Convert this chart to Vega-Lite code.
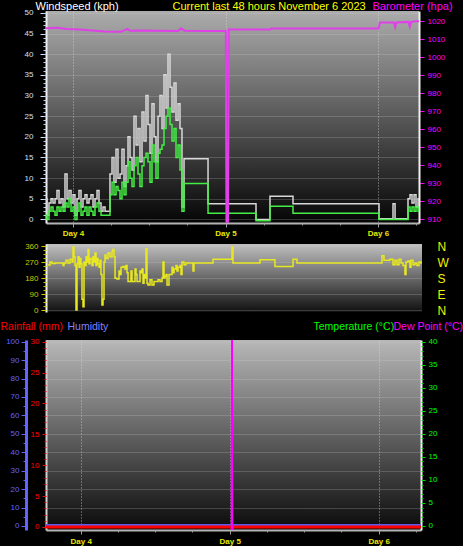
{
 "$schema": "https://vega.github.io/schema/vega-lite/v6.json",
 "background": "#000000",
 "padding": 0,
 "config": {
  "font": "Liberation Sans",
  "view": {"stroke": null},
  "axis": {"labelFont": "Liberation Sans", "titleFont": "Liberation Sans", "titleFontWeight": "normal", "labelFontSize": 8, "tickWidth": 1}
 },
 "datasets": {
  "wind": [
   {"t":-4.72,"g":3,"a":0},{"t":-4.41,"g":5,"a":1},{"t":-4.09,"g":1,"a":0},{"t":-3.78,"g":4,"a":2},{"t":-3.46,"g":5,"a":3},{"t":-3.15,"g":4,"a":2},{"t":-2.83,"g":5,"a":1},{"t":-2.52,"g":7,"a":3},{"t":-2.2,"g":4,"a":2},{"t":-1.89,"g":5,"a":3},{"t":-1.57,"g":3,"a":2},{"t":-1.26,"g":11,"a":4},{"t":-0.94,"g":5,"a":3},{"t":-0.63,"g":7,"a":5},{"t":-0.31,"g":4,"a":2},{"t":0,"g":6,"a":3},{"t":0.31,"g":1,"a":0},{"t":0.63,"g":5,"a":2},{"t":0.94,"g":7,"a":4},{"t":1.26,"g":3,"a":1},{"t":1.57,"g":5,"a":2},{"t":1.89,"g":6,"a":3},{"t":2.2,"g":4,"a":1},{"t":2.52,"g":5,"a":3},{"t":2.83,"g":6,"a":2},{"t":3.15,"g":3,"a":1},{"t":3.46,"g":5,"a":3},{"t":3.78,"g":7,"a":4},{"t":4.09,"g":4,"a":2},{"t":4.41,"g":2,"a":1},{"t":4.72,"g":3,"a":1},{"t":5.04,"g":2,"a":1},{"t":5.35,"g":2,"a":1},{"t":5.67,"g":2,"a":1},{"t":5.82,"g":11,"a":6},{"t":6.14,"g":15,"a":9},{"t":6.45,"g":9,"a":6},{"t":6.77,"g":17,"a":8},{"t":7.08,"g":10,"a":7},{"t":7.4,"g":11,"a":5},{"t":7.71,"g":17,"a":9},{"t":8.03,"g":8,"a":6},{"t":8.34,"g":13,"a":9},{"t":8.66,"g":20,"a":14},{"t":8.97,"g":15,"a":10},{"t":9.29,"g":12,"a":8},{"t":9.6,"g":25,"a":13},{"t":9.92,"g":18,"a":15},{"t":10.23,"g":22,"a":11},{"t":10.54,"g":14,"a":8},{"t":10.86,"g":26,"a":13},{"t":11.17,"g":19,"a":15},{"t":11.49,"g":30,"a":16},{"t":11.8,"g":23,"a":14},{"t":12.12,"g":16,"a":9},{"t":12.43,"g":28,"a":18},{"t":12.75,"g":20,"a":14},{"t":13.06,"g":14,"a":10},{"t":13.38,"g":25,"a":16},{"t":13.69,"g":30,"a":17},{"t":14.01,"g":22,"a":18},{"t":14.32,"g":35,"a":22},{"t":14.64,"g":27,"a":25},{"t":14.95,"g":40,"a":27},{"t":15.27,"g":32,"a":23},{"t":15.58,"g":26,"a":19},{"t":15.9,"g":33,"a":22},{"t":16.21,"g":24,"a":15},{"t":16.53,"g":28,"a":18},{"t":16.84,"g":22,"a":12},{"t":17.15,"g":3,"a":2},{"t":17.47,"g":14.7,"a":8.7},{"t":21.25,"g":3.8,"a":1.5},{"t":28.8,"g":0,"a":-0.3},{"t":31.0,"g":5.6,"a":3.2},{"t":34.62,"g":3.8,"a":1.5},{"t":48.16,"g":0.2,"a":0},{"t":50.36,"g":3.8,"a":0},{"t":50.68,"g":0.2,"a":0},{"t":52.72,"g":5,"a":3},{"t":53.04,"g":6,"a":2},{"t":53.35,"g":4,"a":3},{"t":53.67,"g":6,"a":2},{"t":53.98,"g":3,"a":3},{"t":54.3,"g":5,"a":2},{"t":54.6,"g":5,"a":2}
  ],
  "baro": [
   {"t":-4.72,"p":1016},{"t":-2.5,"p":1016.2},{"t":-1,"p":1015.6},{"t":1,"p":1015.3},{"t":3,"p":1014.8},{"t":5,"p":1014.2},{"t":7.5,"p":1014.0},{"t":8.6,"p":1015.6},{"t":9.0,"p":1014.6},{"t":11,"p":1014.8},{"t":13,"p":1014.6},{"t":16.5,"p":1014.4},{"t":17.0,"p":1015.8},{"t":17.6,"p":1014.6},{"t":21,"p":1014.4},{"t":24.05,"p":1014.4},{"t":24.15,"p":908},{"t":24.4,"p":908},{"t":24.5,"p":1015.3},{"t":31,"p":1015.3},{"t":31.2,"p":1015.9},{"t":48.1,"p":1015.9},{"t":48.3,"p":1019.2},{"t":50.5,"p":1019.2},{"t":50.7,"p":1016.5},{"t":50.9,"p":1019.2},{"t":52.8,"p":1019.5},{"t":53.0,"p":1016.8},{"t":53.2,"p":1019.5},{"t":54.0,"p":1019.8},{"t":54.6,"p":1019.8}
  ],
  "dir": [
   {"t":-4.72,"d":253},{"t":-4.4,"d":270},{"t":-4.09,"d":262},{"t":-3.61,"d":265},{"t":-2.34,"d":250},{"t":-2.18,"d":265},{"t":-1.87,"d":280},{"t":-1.55,"d":265},{"t":-1.23,"d":285},{"t":-0.91,"d":270},{"t":-0.76,"d":355},{"t":-0.6,"d":300},{"t":-0.44,"d":250},{"t":-0.28,"d":0},{"t":-0.12,"d":260},{"t":0.04,"d":300},{"t":0.2,"d":240},{"t":0.36,"d":290},{"t":0.51,"d":260},{"t":0.67,"d":60},{"t":0.83,"d":18},{"t":0.99,"d":270},{"t":1.15,"d":250},{"t":1.31,"d":300},{"t":1.47,"d":270},{"t":1.62,"d":340},{"t":1.78,"d":260},{"t":1.94,"d":290},{"t":2.26,"d":250},{"t":2.42,"d":300},{"t":2.57,"d":270},{"t":2.73,"d":320},{"t":2.89,"d":250},{"t":3.05,"d":290},{"t":3.21,"d":260},{"t":3.37,"d":240},{"t":3.53,"d":280},{"t":3.68,"d":200},{"t":3.84,"d":28},{"t":4.0,"d":60},{"t":4.16,"d":270},{"t":4.32,"d":310},{"t":4.48,"d":290},{"t":4.79,"d":320},{"t":5.11,"d":300},{"t":5.43,"d":330},{"t":5.59,"d":340},{"t":5.75,"d":300},{"t":5.91,"d":178},{"t":6.22,"d":175},{"t":6.54,"d":220},{"t":6.7,"d":200},{"t":6.86,"d":240},{"t":7.17,"d":245},{"t":7.49,"d":230},{"t":7.65,"d":250},{"t":7.81,"d":210},{"t":7.97,"d":160},{"t":8.29,"d":160},{"t":8.44,"d":220},{"t":8.6,"d":160},{"t":8.92,"d":160},{"t":9.08,"d":230},{"t":9.24,"d":200},{"t":9.4,"d":160},{"t":9.71,"d":160},{"t":9.87,"d":220},{"t":10.03,"d":210},{"t":10.19,"d":230},{"t":10.35,"d":150},{"t":10.51,"d":200},{"t":10.66,"d":180},{"t":10.82,"d":345},{"t":10.98,"d":150},{"t":11.14,"d":140},{"t":11.46,"d":170},{"t":11.77,"d":140},{"t":12.09,"d":160},{"t":12.41,"d":160},{"t":12.73,"d":170},{"t":13.04,"d":160},{"t":13.36,"d":180},{"t":13.52,"d":270},{"t":13.68,"d":180},{"t":13.84,"d":190},{"t":14.0,"d":200},{"t":14.16,"d":140},{"t":14.31,"d":140},{"t":14.47,"d":200},{"t":14.79,"d":200},{"t":14.95,"d":240},{"t":15.11,"d":210},{"t":15.27,"d":230},{"t":15.58,"d":250},{"t":15.74,"d":220},{"t":15.9,"d":240},{"t":16.22,"d":250},{"t":16.37,"d":200},{"t":16.53,"d":270},{"t":16.85,"d":255},{"t":17.17,"d":265},{"t":18.12,"d":265},{"t":18.28,"d":220},{"t":18.43,"d":265},{"t":21.45,"d":285},{"t":24.46,"d":355},{"t":24.62,"d":265},{"t":28.9,"d":283},{"t":31.28,"d":245},{"t":34.14,"d":285},{"t":34.77,"d":265},{"t":48.25,"d":305},{"t":48.57,"d":280},{"t":49.52,"d":285},{"t":50.0,"d":255},{"t":50.31,"d":280},{"t":50.63,"d":255},{"t":50.95,"d":285},{"t":51.27,"d":265},{"t":51.58,"d":250},{"t":51.9,"d":200},{"t":52.06,"d":270},{"t":52.38,"d":275},{"t":52.69,"d":240},{"t":52.85,"d":280},{"t":53.17,"d":255},{"t":53.49,"d":265},{"t":53.8,"d":250},{"t":54.12,"d":270},{"t":54.44,"d":265},{"t":54.6,"d":265}
  ],
  "bottom": [
   {"t":-5.6,"rain":0,"hum":0.5,"temp":0,"dew":-10},
   {"t":24.33,"rain":0,"hum":0.5,"temp":0,"dew":-10},
   {"t":24.37,"rain":0,"hum":0.5,"temp":0,"dew":48},
   {"t":24.41,"rain":0,"hum":0.5,"temp":0,"dew":-10},
   {"t":54.9,"rain":0,"hum":0.5,"temp":0,"dew":-10}
  ]
 },
 "spacing": 3,
 "bounds": "full",
 "vconcat": [
  {
   "width": 373,
   "height": 212,
   "view": {"stroke": null, "fill": {"gradient": "linear", "x1": 0, "y1": 0, "x2": 0, "y2": 1, "stops": [{"offset": 0, "color": "#acacac"}, {"offset": 1, "color": "#050505"}]}},
   "resolve": {"scale": {"y": "independent"}, "axis": {"x": "independent", "y": "independent"}},
   "layer": [
    {
     "data": {"name": "wind"},
     "mark": {"type": "line", "interpolate": "step-after", "color": "#d8d8d8", "strokeWidth": 1.5, "clip": true},
     "encoding": {
      "x": {"field": "t", "type": "quantitative", "scale": {"domain": [-4.25, 54.45], "nice": false, "zero": false},
       "axis": {"orient": "bottom", "values": [0, 24, 48], "labelExpr": "datum.value == 0 ? 'Day 4' : datum.value == 24 ? 'Day 5' : 'Day 6'", "labelColor": "#e8e800", "labelFontWeight": "bold", "labelPadding": 2, "tickColor": "#a0a0a0", "tickSize": 4, "domainColor": "#b4b4b4", "domainWidth": 2, "grid": true, "gridColor": "#dcdcdc", "gridDash": [1, 2], "gridOpacity": 0.7, "title": null}},
      "y": {"field": "g", "type": "quantitative", "scale": {"domain": [-0.85, 50.45], "nice": false, "zero": false},
       "axis": {"orient": "left", "values": [0, 5, 10, 15, 20, 25, 30, 35, 40, 45, 50], "labelColor": "#d0e0ff", "labelPadding": 7, "tickColor": "#d0e0ff", "tickSize": 6, "domainColor": "#f0f0f0", "domainWidth": 2, "grid": true, "gridColor": "#d0d0d0", "gridDash": [1, 1], "gridOpacity": 0.45, "title": "Windspeed (kph)", "titleColor": "#ffffff", "titleFontSize": 11, "titleAngle": 0, "titleAlign": "left", "titleBaseline": "top", "titleX": -11, "titleY": -10.5}}
     }
    },
    {
     "data": {"name": "wind"},
     "mark": {"type": "line", "interpolate": "step-after", "color": "#44ee44", "strokeWidth": 1.5, "clip": true},
     "encoding": {
      "x": {"field": "t", "type": "quantitative", "scale": {"domain": [-4.25, 54.45], "nice": false, "zero": false},
       "axis": {"orient": "bottom", "values": [0, 6, 12, 18, 24, 30, 36, 42, 48, 54], "labels": false, "domain": false, "grid": false, "tickColor": "#a0a0a0", "tickSize": 2, "title": null}},
      "y": {"field": "a", "type": "quantitative", "scale": {"domain": [-0.85, 50.45], "nice": false, "zero": false},
       "axis": {"orient": "left", "values": [0,1,2,3,4,5,6,7,8,9,10,11,12,13,14,15,16,17,18,19,20,21,22,23,24,25,26,27,28,29,30,31,32,33,34,35,36,37,38,39,40,41,42,43,44,45,46,47,48,49,50], "labels": false, "domain": false, "grid": false, "tickColor": "#c0d0f0", "tickSize": 3, "title": "Current last 48 hours November 6 2023", "titleColor": "#ffff00", "titleFontSize": 11, "titleAngle": 0, "titleAlign": "left", "titleBaseline": "top", "titleX": 126, "titleY": -10.5}}
     }
    },
    {
     "data": {"name": "baro"},
     "mark": {"type": "line", "color": "#e040e8", "strokeWidth": 2, "clip": true},
     "encoding": {
      "x": {"field": "t", "type": "quantitative", "scale": {"domain": [-4.25, 54.45], "nice": false, "zero": false}, "axis": null},
      "y": {"field": "p", "type": "quantitative", "scale": {"domain": [907.95, 1025.55], "nice": false, "zero": false},
       "axis": {"orient": "right", "format": "d", "values": [910, 920, 930, 940, 950, 960, 970, 980, 990, 1000, 1010, 1020], "labelColor": "#ff00ff", "labelPadding": 3, "tickColor": "#ff00ff", "tickSize": 5, "domainColor": "#f0f0f0", "domainWidth": 2, "grid": false, "title": "Barometer (hpa)", "titleColor": "#ff00ff", "titleFontSize": 11, "titleAngle": 0, "titleAlign": "left", "titleBaseline": "top", "titleX": -47, "titleY": -10.5}}
     }
    }
   ]
  },
  {
   "spacing": 28,
   "bounds": "flush",
   "vconcat": [
    {
     "width": 376,
     "height": 68,
     "view": {"stroke": null, "fill": {"gradient": "linear", "x1": 0, "y1": 0, "x2": 0, "y2": 1, "stops": [{"offset": 0, "color": "#c0c0c0"}, {"offset": 1, "color": "#101010"}]}},
     "resolve": {"scale": {"y": "independent"}, "axis": {"y": "independent"}},
     "layer": [
      {
       "data": {"name": "dir"},
       "mark": {"type": "line", "interpolate": "step-after", "color": "#e8e820", "strokeWidth": 1.5, "clip": true},
       "encoding": {
        "x": {"field": "t", "type": "quantitative", "scale": {"domain": [-5.04, 54.6], "nice": false, "zero": false},
         "axis": {"orient": "bottom", "values": [], "labels": false, "ticks": false, "grid": false, "domainColor": "#b4b4b4", "domainWidth": 2, "title": null}},
        "y": {"field": "d", "type": "quantitative", "scale": {"domain": [-11.25, 371.25], "nice": false, "zero": false},
         "axis": {"orient": "left", "values": [0, 90, 180, 270, 360], "labelColor": "#c8c800", "labelPadding": 3, "tickColor": "#c8c800", "tickSize": 5, "domainColor": "#f0f0f0", "domainWidth": 2, "grid": true, "gridColor": "#d0d0d0", "gridDash": [1, 1], "gridOpacity": 0.45, "title": null}}
       }
      },
      {
       "data": {"name": "dir"},
       "mark": {"type": "line", "strokeOpacity": 0, "clip": true},
       "encoding": {
        "x": {"field": "t", "type": "quantitative", "scale": {"domain": [-5.04, 54.6], "nice": false, "zero": false}, "axis": null},
        "y": {"field": "d", "type": "quantitative", "scale": {"domain": [-11.25, 371.25], "nice": false, "zero": false},
         "axis": {"orient": "left", "values": [0, 22.5, 45, 67.5, 90, 112.5, 135, 157.5, 180, 202.5, 225, 247.5, 270, 292.5, 315, 337.5, 360], "labels": false, "domain": false, "grid": false, "tickColor": "#c8c800", "tickSize": 3, "title": null}}
       }
      },
      {
       "data": {"name": "dir"},
       "mark": {"type": "line", "strokeOpacity": 0, "clip": true},
       "encoding": {
        "x": {"field": "t", "type": "quantitative", "scale": {"domain": [-5.04, 54.6], "nice": false, "zero": false}, "axis": null},
        "y": {"field": "d", "type": "quantitative", "scale": {"domain": [-11.25, 371.25], "nice": false, "zero": false},
         "axis": {"orient": "right", "values": [0, 90, 180, 270, 360], "labelExpr": "datum.value == 270 ? 'W' : datum.value == 180 ? 'S' : datum.value == 90 ? 'E' : 'N'", "labelColor": "#f0f000", "labelFontSize": 12, "labelPadding": 15, "ticks": false, "tickSize": 0, "domain": false, "grid": false, "title": null}}
       }
      }
     ]
    },
    {
     "width": 375,
     "height": 190,
     "view": {"stroke": null, "fill": {"gradient": "linear", "x1": 0, "y1": 0, "x2": 0, "y2": 1, "stops": [{"offset": 0, "color": "#b8b8b8"}, {"offset": 1, "color": "#0a0a0a"}]}},
     "resolve": {"scale": {"y": "independent"}, "axis": {"x": "independent", "y": "independent"}},
     "layer": [
      {
       "data": {"name": "bottom"},
       "mark": {"type": "line", "color": "#00e000", "strokeWidth": 2, "clip": true},
       "encoding": {
        "x": {"field": "t", "type": "quantitative", "scale": {"domain": [-5.59, 54.82], "nice": false, "zero": false}, "axis": null},
        "y": {"field": "temp", "type": "quantitative", "scale": {"domain": [-0.87, 40.37], "nice": false, "zero": false},
         "axis": {"orient": "right", "values": [0, 5, 10, 15, 20, 25, 30, 35, 40], "labelColor": "#00ff00", "labelPadding": 3, "tickColor": "#00e000", "tickSize": 4, "domainColor": "#f0f0f0", "domainWidth": 2, "grid": false, "title": "Temperature (°C)", "titleColor": "#00ff00", "titleFontSize": 10.5, "titleAngle": 0, "titleAlign": "left", "titleBaseline": "top", "titleX": -108, "titleY": -18.5}}
       }
      },
      {
       "data": {"name": "bottom"},
       "mark": {"type": "line", "strokeOpacity": 0, "clip": true},
       "encoding": {
        "x": {"field": "t", "type": "quantitative", "scale": {"domain": [-5.59, 54.82], "nice": false, "zero": false}, "axis": null},
        "y": {"field": "temp", "type": "quantitative", "scale": {"domain": [-0.87, 40.37], "nice": false, "zero": false},
         "axis": {"orient": "right", "values": [0,1,2,3,4,5,6,7,8,9,10,11,12,13,14,15,16,17,18,19,20,21,22,23,24,25,26,27,28,29,30,31,32,33,34,35,36,37,38,39,40], "labels": false, "domain": false, "grid": false, "tickColor": "#00e000", "tickSize": 2, "title": null}}
       }
      },
      {
       "data": {"name": "bottom"},
       "mark": {"type": "line", "color": "#5a5af0", "strokeWidth": 2, "clip": true},
       "encoding": {
        "x": {"field": "t", "type": "quantitative", "scale": {"domain": [-5.59, 54.82], "nice": false, "zero": false}, "axis": null},
        "y": {"field": "hum", "type": "quantitative", "scale": {"domain": [-2.17, 100.9], "nice": false, "zero": false},
         "axis": {"orient": "left", "offset": 20, "values": [0, 10, 20, 30, 40, 50, 60, 70, 80, 90, 100], "labelColor": "#6464ff", "labelPadding": 2, "tickColor": "#6464ff", "tickSize": 5, "domainColor": "#6464ff", "domainWidth": 3, "grid": false, "title": "Humidity", "titleColor": "#8080ff", "titleFontSize": 10.5, "titleAngle": 0, "titleAlign": "left", "titleBaseline": "top", "titleX": 41, "titleY": -18.5}}
       }
      },
      {
       "data": {"name": "bottom"},
       "mark": {"type": "line", "strokeOpacity": 0, "clip": true},
       "encoding": {
        "x": {"field": "t", "type": "quantitative", "scale": {"domain": [-5.59, 54.82], "nice": false, "zero": false}, "axis": null},
        "y": {"field": "hum", "type": "quantitative", "scale": {"domain": [-2.17, 100.9], "nice": false, "zero": false},
         "axis": {"orient": "left", "offset": 20, "values": [5, 15, 25, 35, 45, 55, 65, 75, 85, 95], "labels": false, "domain": false, "grid": false, "tickColor": "#6464ff", "tickSize": 3, "title": null}}
       }
      },
      {
       "data": {"name": "bottom"},
       "mark": {"type": "line", "color": "#ff0000", "strokeWidth": 3, "clip": true},
       "encoding": {
        "x": {"field": "t", "type": "quantitative", "scale": {"domain": [-5.59, 54.82], "nice": false, "zero": false},
         "axis": {"orient": "bottom", "values": [0, 24, 48], "labelExpr": "datum.value == 0 ? 'Day 4' : datum.value == 24 ? 'Day 5' : 'Day 6'", "labelColor": "#e8e800", "labelFontWeight": "bold", "labelPadding": 3.5, "tickColor": "#a0a0a0", "tickSize": 4, "domainColor": "#b4b4b4", "domainWidth": 2, "grid": true, "gridColor": "#dcdcdc", "gridDash": [1, 2], "gridOpacity": 0.7, "title": null}},
        "y": {"field": "rain", "type": "quantitative", "scale": {"domain": [-0.49, 30.28], "nice": false, "zero": false},
         "axis": {"orient": "left", "values": [0, 5, 10, 15, 20, 25, 30], "labelColor": "#ff0000", "labelPadding": 3, "tickColor": "#ff0000", "tickSize": 4, "domainColor": "#d0d0d0", "domainWidth": 2, "grid": false, "title": "Rainfall (mm)", "titleColor": "#ff0000", "titleFontSize": 10.5, "titleAngle": 0, "titleAlign": "left", "titleBaseline": "top", "titleX": -46, "titleY": -18.5}}
       }
      },
      {
       "data": {"name": "bottom"},
       "mark": {"type": "line", "strokeOpacity": 0, "clip": true},
       "encoding": {
        "x": {"field": "t", "type": "quantitative", "scale": {"domain": [-5.59, 54.82], "nice": false, "zero": false},
         "axis": {"orient": "bottom", "values": [0, 6, 12, 18, 24, 30, 36, 42, 48, 54], "labels": false, "domain": false, "grid": false, "tickColor": "#a0a0a0", "tickSize": 2, "title": null}},
        "y": {"field": "rain", "type": "quantitative", "scale": {"domain": [-0.49, 30.28], "nice": false, "zero": false},
         "axis": {"orient": "left", "values": [0,1,2,3,4,5,6,7,8,9,10,11,12,13,14,15,16,17,18,19,20,21,22,23,24,25,26,27,28,29,30], "labels": false, "domain": false, "grid": false, "tickColor": "#ff0000", "tickSize": 2, "title": null}}
       }
      },
      {
       "data": {"name": "bottom"},
       "mark": {"type": "line", "color": "#ff00ff", "strokeWidth": 2, "clip": true},
       "encoding": {
        "x": {"field": "t", "type": "quantitative", "scale": {"domain": [-5.59, 54.82], "nice": false, "zero": false}, "axis": null},
        "y": {"field": "dew", "type": "quantitative", "scale": {"domain": [-0.87, 40.37], "nice": false, "zero": false},
         "axis": {"orient": "right", "values": [0, 4, 8, 12, 16, 20, 24, 28, 32, 36, 40], "labels": false, "ticks": false, "domain": false, "grid": true, "gridColor": "#d0d0d0", "gridDash": [1, 1], "gridOpacity": 0.45, "title": "Dew Point (°C)", "titleColor": "#ff00ff", "titleFontSize": 10.5, "titleAngle": 0, "titleAlign": "left", "titleBaseline": "top", "titleX": -28, "titleY": -18.5}}
       }
      }
     ]
    }
   ]
  }
 ]
}
